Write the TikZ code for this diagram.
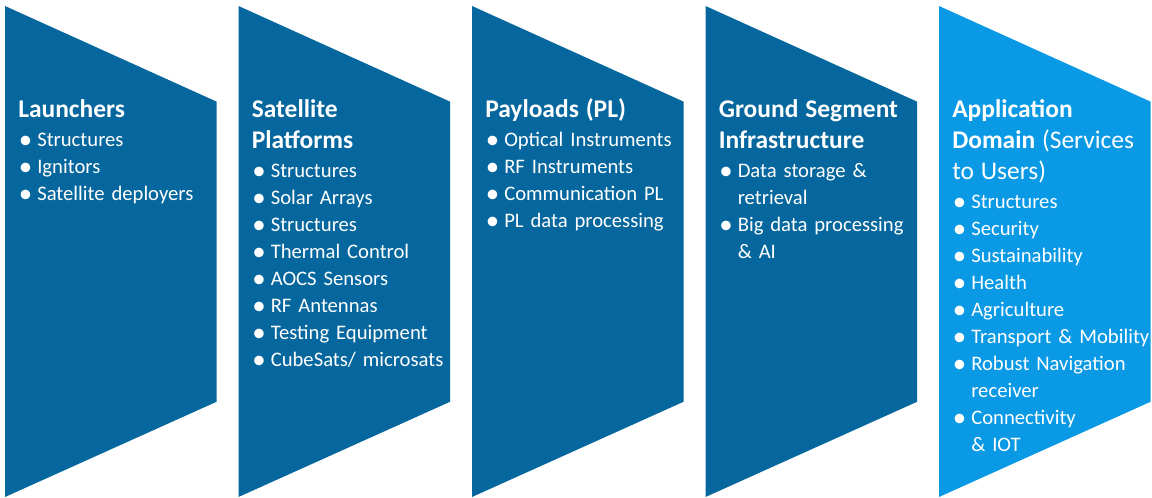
\documentclass[tikz,border=0pt]{standalone}
\usepackage{fontspec}
\setmainfont{Carlito}

\definecolor{segdark}{HTML}{05679E}
\definecolor{seglight}{HTML}{0999E5}

% heading line, bullet item and continuation line
\newcommand{\seghead}[1]{{\fontsize{19.1}{23.25}\selectfont\bfseries #1}}
\newcommand{\segitem}{\makebox[14.25pt][l]{\hspace*{0.4pt}\raisebox{-1.7pt}{\scalebox{1.3}{\textbullet}}}}
\newcommand{\segcont}{\hspace*{14.25pt}}

\begin{document}
\begin{tikzpicture}[
  x=0.75pt, y=-0.75pt,
  segshape/.style={fill=segdark},
  segtext/.style={text=white, anchor=base west, inner sep=0pt,
    text width=170pt, align=left,
    font=\fontsize{15.5}{20.25}\selectfont}
]
\useasboundingbox (0,0) rectangle (1152,498);

%================================================
% CHEVRON SHAPES
%================================================
\foreach \i/\col in {0/segdark,1/segdark,2/segdark,3/segdark,4/seglight}{
  \pgfmathsetmacro{\xl}{5+233.5*\i}
  \fill[segshape, fill=\col] (\xl,6) -- ++(211.7,95.7) -- ++(0,300)
    -- (\xl,497) -- cycle;
}

%================================================
% TEXT IN THE SHAPES
%================================================
\node[segtext] (launch) at (18,118) {%
  \seghead{Launchers}\\[1.1pt]
  \segitem Structures\\
  \segitem Ignitors\\
  \segitem Satellite deployers};

\node[segtext] (platform) at (251.5,118) {%
  \seghead{Satellite}\\[3pt]
  \seghead{Platforms}\\[1.1pt]
  \segitem Structures\\
  \segitem Solar Arrays\\
  \segitem Structures\\
  \segitem Thermal Control\\
  \segitem AOCS Sensors\\
  \segitem RF Antennas\\
  \segitem Testing Equipment\\
  \segitem CubeSats/ microsats};

\node[segtext] (payload) at (485,118) {%
  \seghead{Payloads (PL)}\\[1.1pt]
  \segitem Optical Instruments\\
  \segitem RF Instruments\\
  \segitem Communication PL\\
  \segitem PL data processing};

\node[segtext] (ground) at (718.5,118) {%
  \seghead{Ground Segment}\\[3pt]
  \seghead{Infrastructure}\\[1.1pt]
  \segitem Data storage \&\\
  \segcont retrieval\\
  \segitem Big data processing\\
  \segcont \& AI};

\node[segtext] (appl) at (952,118) {%
  \seghead{Application}\\[3pt]
  \seghead{Domain \mdseries(Services}\\[3pt]
  \seghead{\mdseries to Users)}\\[1.1pt]
  \segitem Structures\\
  \segitem Security\\
  \segitem Sustainability\\
  \segitem Health\\
  \segitem Agriculture\\
  \segitem Transport \& Mobility\\
  \segitem Robust Navigation\\
  \segcont receiver\\
  \segitem Connectivity\\
  \segcont \& IOT};

\end{tikzpicture}
\end{document}
